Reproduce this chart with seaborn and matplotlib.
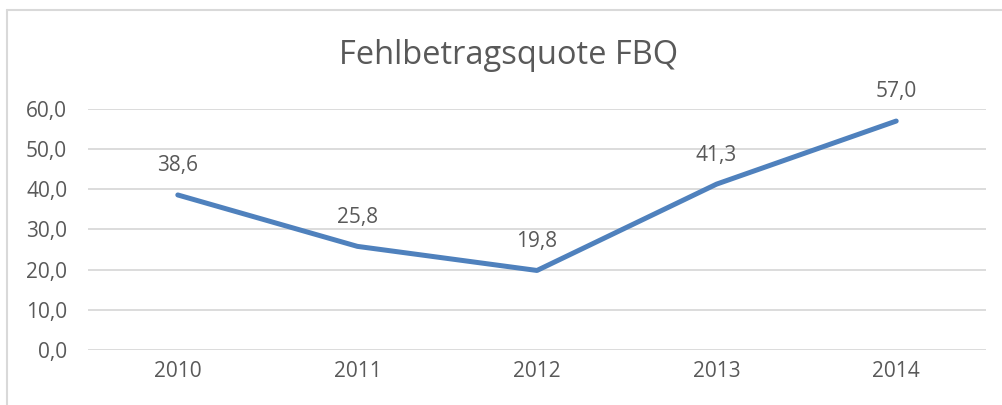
import matplotlib
matplotlib.use("Agg")
import matplotlib.pyplot as plt
import seaborn as sns
import pandas as pd
from matplotlib.lines import Line2D

# ------------------------ Daten ------------------------
jahre = ["2010", "2011", "2012", "2013", "2014"]
fbq = [38.6, 25.8, 19.8, 41.3, 57.0]
y_ticks = [0, 10, 20, 30, 40, 50, 60]

df = pd.DataFrame({"Jahr": jahre, "FBQ": fbq})

# ------------------------ Stil ------------------------
sns.set_style("white")
plt.rcParams["font.family"] = ["Open Sans", "DejaVu Sans"]
text_col = "#595959"
grid_col = "#D9D9D9"
line_col = "#4F81BD"

fig = plt.figure(figsize=(10.02, 4.05), dpi=100)
ax = fig.add_axes([88 / 1002, 1 - 350 / 405, 898 / 1002, 241 / 405])

sns.lineplot(data=df, x="Jahr", y="FBQ", ax=ax, color=line_col,
             linewidth=3.6, sort=False, solid_capstyle="round")

ax.set_xlim(-0.5, len(jahre) - 0.5)
ax.set_ylim(0, 60)
ax.set_yticks(y_ticks)
ax.set_yticklabels([f"{v:.1f}".replace(".", ",") for v in y_ticks])
ax.yaxis.grid(True, color=grid_col, linewidth=1.3)
ax.set_axisbelow(True)
for s in ax.spines.values():
    s.set_visible(False)
ax.tick_params(axis="y", length=0, pad=15, labelsize=15, labelcolor=text_col)
ax.tick_params(axis="x", length=0, pad=8, labelsize=15, labelcolor=text_col)
ax.set_xlabel("")
ax.set_ylabel("")

# Datenbeschriftungen
for i, v in enumerate(fbq):
    ax.annotate(f"{v:.1f}".replace(".", ","), (i, v), xytext=(0, 17),
                textcoords="offset points", ha="center", va="baseline",
                fontsize=15, color=text_col, annotation_clip=False)

fig.text(509 / 1002, 1 - 64 / 405, "Fehlbetragsquote FBQ", ha="center",
         va="baseline", fontsize=23.5, color=text_col)

# Rahmen
fig.add_artist(Line2D([7 / 1002, 1], [1 - 10 / 405, 1 - 10 / 405],
                      color=grid_col, linewidth=1.5, transform=fig.transFigure))
fig.add_artist(Line2D([7 / 1002, 7 / 1002], [0, 1 - 10 / 405],
                      color=grid_col, linewidth=1.5, transform=fig.transFigure))

fig.savefig("out.png", dpi=100)
